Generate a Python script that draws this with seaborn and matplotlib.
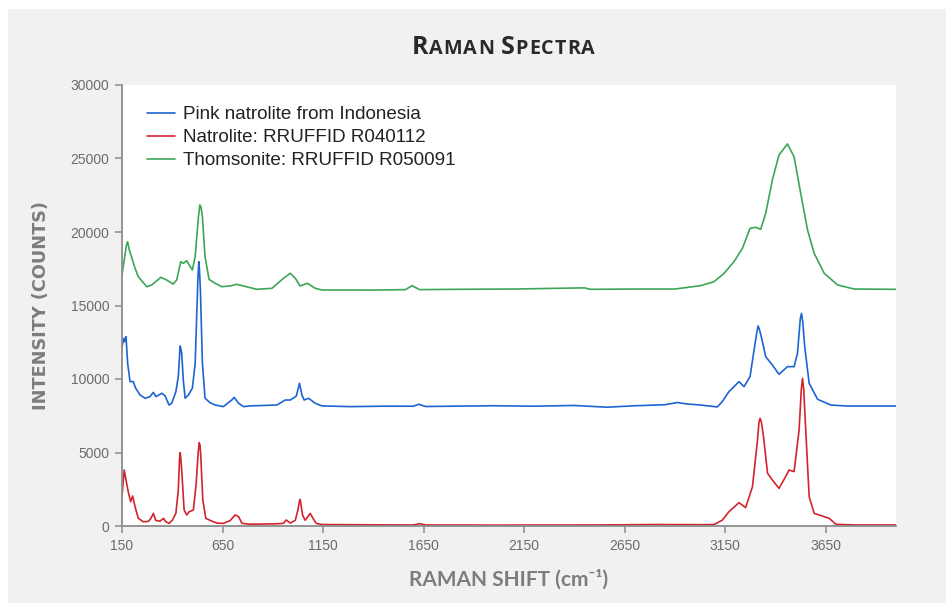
import numpy as np
import pandas as pd
import seaborn as sns
import matplotlib.pyplot as plt
from matplotlib.patches import Rectangle

# spectra (Raman shift in cm-1, intensity in counts)
pink_x = [150, 160, 165, 170, 178, 190, 206, 218, 240, 265, 289, 306, 319, 348, 364, 384, 397,
          418, 430, 436, 439, 442, 447, 455, 464, 480, 500, 514, 523, 528, 532, 535, 540, 550,
          563, 588, 613, 654, 696, 708, 730, 754, 787, 920, 962, 987, 1017, 1033, 1045, 1056,
          1078, 1111, 1144, 1285, 1450, 1600, 1626, 1660, 1800, 2000, 2200, 2400, 2563, 2700,
          2850, 2912, 2960, 3028, 3111, 3136, 3169, 3219, 3244, 3274, 3294, 3308, 3314, 3320,
          3330, 3352, 3385, 3418, 3460, 3493, 3510, 3524, 3530, 3536, 3546, 3568, 3610, 3676,
          3759, 4000]
pink_y = [12200, 12770, 12540, 12880, 11070, 9820, 9820, 9370, 8910, 8690, 8800, 9090, 8800,
          9030, 8860, 8230, 8340, 9140, 10160, 11500, 12250, 12100, 11750, 9930, 8690, 8910,
          9370, 11070, 14920, 17000, 17980, 17500, 16050, 11070, 8690, 8390, 8230, 8120, 8570,
          8750, 8350, 8120, 8170, 8230, 8570, 8570, 8840, 9710, 8910, 8570, 8690, 8350, 8170,
          8120, 8150, 8150, 8280, 8130, 8150, 8180, 8150, 8200, 8080, 8180, 8250, 8400, 8300,
          8230, 8100, 8460, 9140, 9820, 9480, 10160, 11970, 13200, 13610, 13400, 12880, 11520,
          10950, 10320, 10840, 10840, 11750, 14100, 14470, 13900, 12200, 9710, 8620, 8230,
          8160, 8160]

natro_x = [150, 161, 173, 181, 193, 203, 215, 231, 256, 281, 294, 306, 318, 339, 356, 368, 384,
           400, 418, 430, 436, 439, 442, 447, 459, 472, 484, 505, 519, 529, 534, 538, 542, 552,
           567, 597, 622, 654, 688, 713, 730, 747, 787, 920, 953, 967, 987, 1012, 1025, 1032,
           1036, 1040, 1048, 1061, 1086, 1100, 1116, 1144, 1400, 1600, 1630, 1660, 2000, 2500,
           2800, 3028, 3095, 3136, 3169, 3219, 3252, 3286, 3311, 3318, 3324, 3330, 3341, 3361,
           3385, 3418, 3451, 3468, 3493, 3518, 3529, 3535, 3541, 3551, 3568, 3593, 3643, 3668,
           3701, 3800, 4000]
natro_y = [2000, 3810, 2900, 2330, 1650, 2040, 1310, 520, 290, 310, 520, 860, 380, 330, 520,
           290, 180, 390, 860, 2450, 4500, 4990, 4700, 3810, 1090, 750, 970, 1090, 2900, 5000,
           5670, 5500, 4720, 1770, 520, 330, 200, 180, 370, 750, 630, 180, 120, 150, 180, 410,
           200, 390, 1090, 1650, 1810, 1500, 750, 390, 860, 520, 180, 100, 80, 70, 160, 70, 60,
           70, 100, 90, 100, 400, 970, 1590, 1250, 2670, 5850, 7000, 7330, 7100, 6080, 3590,
           3130, 2560, 3360, 3810, 3700, 6530, 9300, 10050, 9300, 6530, 2000, 860, 635, 520,
           115, 70, 70]

thom_x = [150, 172, 178, 186, 215, 231, 273, 298, 344, 372, 405, 422, 442, 455, 472, 484, 500,
          514, 530, 537, 543, 550, 563, 583, 613, 646, 688, 721, 821, 896, 953, 987, 1012, 1036,
          1073, 1111, 1144, 1400, 1560, 1593, 1630, 1800, 2100, 2450, 2480, 2700, 2900, 3028,
          3095, 3145, 3194, 3236, 3274, 3302, 3327, 3352, 3385, 3418, 3460, 3493, 3526, 3560,
          3593, 3643, 3709, 3792, 4000]
thom_y = [17100, 19100, 19340, 18800, 17530, 16960, 16280, 16400, 16920, 16735, 16460, 16735,
          17980, 17870, 18050, 17760, 17420, 18320, 21000, 21840, 21700, 21040, 18320, 16780,
          16510, 16280, 16330, 16440, 16100, 16170, 16850, 17190, 16850, 16330, 16510, 16170,
          16055, 16050, 16080, 16350, 16080, 16100, 16120, 16200, 16100, 16120, 16120, 16350,
          16620, 17190, 17980, 18890, 20250, 20320, 20180, 21270, 23540, 25240, 25990, 25120,
          22630, 20140, 18550, 17190, 16400, 16120, 16100]

labels = ["Pink natrolite from Indonesia", "Natrolite: RRUFFID R040112", "Thomsonite: RRUFFID R050091"]
colors = ["#1d64d3", "#d3232c", "#3ca657"]
x_ticks = [150, 650, 1150, 1650, 2150, 2650, 3150, 3650]
y_ticks = [0, 5000, 10000, 15000, 20000, 25000, 30000]

df = pd.concat([
    pd.DataFrame({"shift": pink_x, "counts": pink_y, "sample": labels[0]}),
    pd.DataFrame({"shift": natro_x, "counts": natro_y, "sample": labels[1]}),
    pd.DataFrame({"shift": thom_x, "counts": thom_y, "sample": labels[2]}),
])

sns.set_theme(style="ticks")
plt.rcParams["font.family"] = ["Liberation Sans", "DejaVu Sans"]

fig = plt.figure(figsize=(9.53, 6.08), dpi=100, facecolor="white")
fig.patches.append(Rectangle((8 / 953, 5 / 608), 938 / 953, 594 / 608, transform=fig.transFigure,
                             facecolor="#f1f1f1", edgecolor="none", zorder=-10))
ax = fig.add_axes([122 / 953, 1 - 526 / 608, 774 / 953, 441 / 608])
ax.set_facecolor("white")

sns.lineplot(data=df, x="shift", y="counts", hue="sample", hue_order=labels,
             palette=colors, estimator=None, sort=True, linewidth=1.2, ax=ax)

ax.set_xlim(150, 4000)
ax.set_ylim(0, 30000)
ax.set_xticks(x_ticks)
ax.set_yticks(y_ticks)
sns.despine(ax=ax)
for side in ["left", "bottom"]:
    ax.spines[side].set_color("#8c8c8c")
    ax.spines[side].set_linewidth(1.3)
ax.tick_params(direction="out", length=5, width=1.1, color="#8c8c8c", labelcolor="#6b6b6b",
               labelsize=10, pad=4)

ax.set_xlabel("RAMAN SHIFT (cm\u207b\u00b9)", fontsize=15, fontweight="bold", color="#7d7d7d",
              family=["Lato", "DejaVu Sans"], labelpad=12)
ax.set_ylabel("INTENSITY (COUNTS)", fontsize=12.7, fontweight="bold", color="#7d7d7d",
              family=["DejaVu Sans"], labelpad=15)

leg = ax.legend(loc="upper left", bbox_to_anchor=(0.032, 0.952), frameon=False, fontsize=13.6,
                handlelength=1.5, handletextpad=0.4, labelspacing=0.3, borderpad=0,
                borderaxespad=0)
for t in leg.get_texts():
    t.set_color("#222222")

# small caps title, drawn letter by letter with a little tracking
pieces = [("R", 18)] + [(c, 14.2) for c in "AMAN "] + [("S", 18)] + [(c, 14.2) for c in "PECTRA"]
tracking = 1.0
renderer = fig.canvas.get_renderer()
texts = []
widths = []
for s, size in pieces:
    t = fig.text(0, 1 - 54 / 608, s, fontsize=size, fontweight="bold", color="#2a2a2a",
                 family=["Open Sans", "DejaVu Sans"], va="baseline", ha="left")
    texts.append(t)
    w = t.get_window_extent(renderer).width if s != " " else 5
    widths.append(w + tracking)
start = 503 - (sum(widths) - tracking) / 2
for t, w in zip(texts, widths):
    t.set_x(start / 953)
    start += w

fig.savefig("out.png", dpi=100, facecolor=fig.get_facecolor())
